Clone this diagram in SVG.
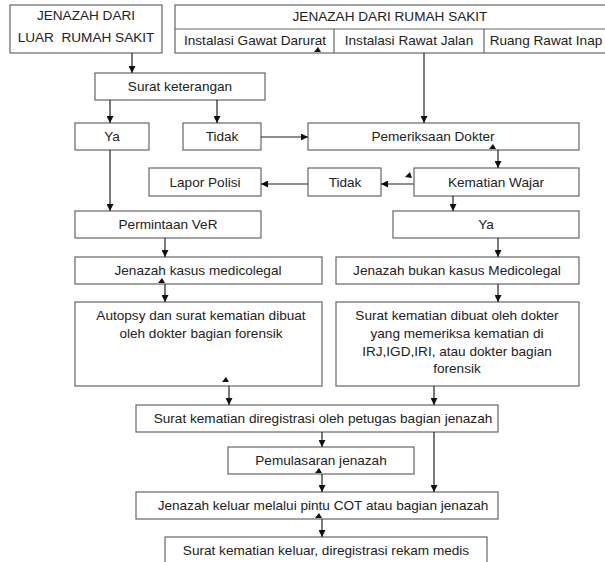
<svg xmlns="http://www.w3.org/2000/svg" width="605" height="562" viewBox="0 0 605 562">
<defs>
<style>
.b{fill:#fff;stroke:#666;stroke-width:1.2}
.t{font-family:"Liberation Sans",Arial,sans-serif;font-size:13.6px;fill:#222;text-anchor:middle}
.c{fill:none;stroke:#222;stroke-width:1.2}
.m{fill:#111}
</style>
<marker id="a" viewBox="0 0 10 10" refX="10" refY="5" markerWidth="7" markerHeight="7" markerUnits="userSpaceOnUse" orient="auto"><path d="M0,0 L10,5 L0,10 z" fill="#111"/></marker>
</defs>
<rect width="605" height="562" fill="#fff"/>
<g id="luar">
<rect class="b" x="10" y="5" width="152" height="48"/>
<text class="t" x="86" y="20">JENAZAH DARI</text>
<text class="t" x="86" y="42">LUAR&#160; RUMAH SAKIT</text>
</g>
<g id="rs">
<rect class="b" x="175" y="5" width="440" height="48"/>
<line class="b" x1="175" y1="29" x2="615" y2="29"/>
<line class="b" x1="334" y1="29" x2="334" y2="53"/>
<line class="b" x1="484" y1="29" x2="484" y2="53"/>
<text class="t" x="390" y="21">JENAZAH DARI RUMAH SAKIT</text>
<text class="t" x="255" y="45">Instalasi Gawat Darurat</text>
<text class="t" x="409" y="45">Instalasi Rawat Jalan</text>
<text class="t" x="546" y="45">Ruang Rawat Inap</text>
</g>
<g id="surat-ket"><rect class="b" x="95" y="73" width="170" height="27"/><text class="t" x="180" y="91">Surat keterangan</text></g>
<g id="ya1"><rect class="b" x="75" y="123" width="74" height="27"/><text class="t" x="112" y="141">Ya</text></g>
<g id="tidak1"><rect class="b" x="183" y="123" width="78" height="27"/><text class="t" x="222" y="141">Tidak</text></g>
<g id="pemeriksaan"><rect class="b" x="308" y="123" width="271" height="27"/><text class="t" x="433" y="141">Pemeriksaan Dokter</text></g>
<g id="lapor"><rect class="b" x="149" y="168" width="112" height="28"/><text class="t" x="205" y="187">Lapor Polisi</text></g>
<g id="tidak2"><rect class="b" x="308" y="168" width="73" height="28"/><text class="t" x="345" y="187">Tidak</text></g>
<g id="wajar"><rect class="b" x="414" y="168" width="165" height="28"/><text class="t" x="496" y="187">Kematian Wajar</text></g>
<g id="ver"><rect class="b" x="75" y="211" width="186" height="27"/><text class="t" x="168" y="229">Permintaan VeR</text></g>
<g id="ya2"><rect class="b" x="393" y="211" width="186" height="27"/><text class="t" x="486" y="229">Ya</text></g>
<g id="medico"><rect class="b" x="75" y="257" width="247" height="27"/><text class="t" x="198" y="275">Jenazah kasus medicolegal</text></g>
<g id="bukan"><rect class="b" x="336" y="257" width="243" height="27"/><text class="t" x="457" y="275">Jenazah bukan kasus Medicolegal</text></g>
<g id="autopsy"><rect class="b" x="75" y="302" width="247" height="84"/>
<text class="t" x="201" y="320">Autopsy dan surat kematian dibuat</text>
<text class="t" x="201" y="338">oleh dokter bagian forensik</text></g>
<g id="dibuat"><rect class="b" x="336" y="302" width="243" height="84"/>
<text class="t" x="457" y="320">Surat kematian dibuat oleh dokter</text>
<text class="t" x="457" y="338">yang memeriksa kematian di</text>
<text class="t" x="457" y="356">IRJ,IGD,IRI, atau dokter bagian</text>
<text class="t" x="457" y="373">forensik</text></g>
<g id="registrasi"><rect class="b" x="136" y="405" width="362" height="27"/><text class="t" x="323" y="423">Surat kematian diregistrasi oleh petugas bagian jenazah</text></g>
<g id="pemulasaran"><rect class="b" x="228" y="447" width="186" height="27"/><text class="t" x="321" y="465">Pemulasaran jenazah</text></g>
<g id="keluar"><rect class="b" x="136" y="492" width="362" height="27"/><text class="t" x="323" y="510">Jenazah keluar melalui pintu COT atau bagian jenazah</text></g>
<g id="rekam"><rect class="b" x="165" y="537" width="322" height="40"/><text class="t" x="326" y="555">Surat kematian keluar, diregistrasi rekam medis</text></g>
<g id="connectors">
<line class="c" x1="132" y1="53" x2="132" y2="73" marker-end="url(#a)"/>
<line class="c" x1="110" y1="100" x2="110" y2="123" marker-end="url(#a)"/>
<line class="c" x1="217" y1="100" x2="217" y2="123" marker-end="url(#a)"/>
<line class="c" x1="424" y1="53" x2="424" y2="123" marker-end="url(#a)"/>
<line class="c" x1="261" y1="137" x2="308" y2="137" marker-end="url(#a)"/>
<line class="c" x1="498" y1="150" x2="498" y2="168" marker-end="url(#a)"/>
<line class="c" x1="414" y1="184" x2="381" y2="184" marker-end="url(#a)"/>
<line class="c" x1="308" y1="184" x2="261" y2="184" marker-end="url(#a)"/>
<line class="c" x1="453" y1="196" x2="453" y2="211" marker-end="url(#a)"/>
<line class="c" x1="110" y1="150" x2="110" y2="211" marker-end="url(#a)"/>
<line class="c" x1="165" y1="238" x2="165" y2="257" marker-end="url(#a)"/>
<line class="c" x1="498" y1="238" x2="498" y2="257" marker-end="url(#a)"/>
<line class="c" x1="165" y1="284" x2="165" y2="302" marker-end="url(#a)"/>
<line class="c" x1="498" y1="284" x2="498" y2="302" marker-end="url(#a)"/>
<line class="c" x1="229" y1="386" x2="229" y2="405" marker-end="url(#a)"/>
<line class="c" x1="434" y1="386" x2="434" y2="405" marker-end="url(#a)"/>
<line class="c" x1="322" y1="432" x2="322" y2="447" marker-end="url(#a)"/>
<line class="c" x1="434" y1="432" x2="434" y2="492" marker-end="url(#a)"/>
<line class="c" x1="322" y1="474" x2="322" y2="492" marker-end="url(#a)"/>
<line class="c" x1="322" y1="519" x2="322" y2="537" marker-end="url(#a)"/>
<polygon class="m" points="318,47 314,52 321,52"/>
<polygon class="m" points="493,144 489,149 496,149"/>
<polygon class="m" points="410,172 405,177 412,178"/>
<polygon class="m" points="162,278 158,283 165,283"/>
<polygon class="m" points="226,377 222,382 229,382"/>
<polygon class="m" points="319,468 315,473 322,473"/>
<polygon class="m" points="319,513 315,518 322,518"/>
</g>
</svg>
